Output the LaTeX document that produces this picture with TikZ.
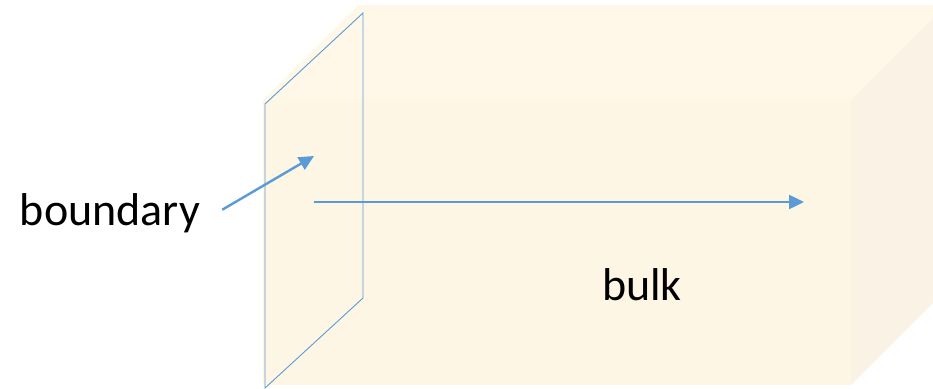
\documentclass[tikz,border=0pt]{standalone}
\usepackage{fontspec}
\setmainfont{Carlito}
\usetikzlibrary{arrows.meta}
\definecolor{boxtop}{HTML}{FFF8E8}
\definecolor{boxfront}{HTML}{FEF6E5}
\definecolor{boxside}{HTML}{FAF2E4}
\definecolor{linkblue}{HTML}{5B9BD5}
\begin{document}
\begin{tikzpicture}[x=1pt,y=-1pt,
  arrow/.style={draw=linkblue,line width=2.4pt,-{Triangle[length=15pt,width=14pt]}},
  bigtext/.style={font=\fontsize{46}{55}\selectfont,inner sep=0pt,anchor=base}]
  % Frame
  \useasboundingbox (0,0) rectangle (933,388);
  \clip (0,0) rectangle (933,388);
  % Bulk box (front, top, side)
  \fill[boxtop] (263,100) -- (358,5) -- (946,5) -- (851,100) -- cycle;
  \fill[boxside] (851,100) -- (946,5) -- (946,290) -- (851,385) -- cycle;
  \fill[boxfront] (263,100) rectangle (851,385);
  % Boundary plane
  \draw[linkblue,line width=0.9pt] (265,104) -- (363,13) -- (363,298) -- (265,388) -- cycle;
  % Labels
  \node[bigtext] (bnd) at (110,225) {boundary};
  \node[bigtext] (bulk) at (642,300) {bulk};
  % Arrows
  \coordinate (bndtip) at (314,156);
  \coordinate (start) at (314,202);
  \coordinate (end) at (804,202);
  \draw[arrow] ([xshift=22pt,yshift=3pt]bnd.east) -- (bndtip);
  \draw[arrow] (start) -- (end);
\end{tikzpicture}
\end{document}
